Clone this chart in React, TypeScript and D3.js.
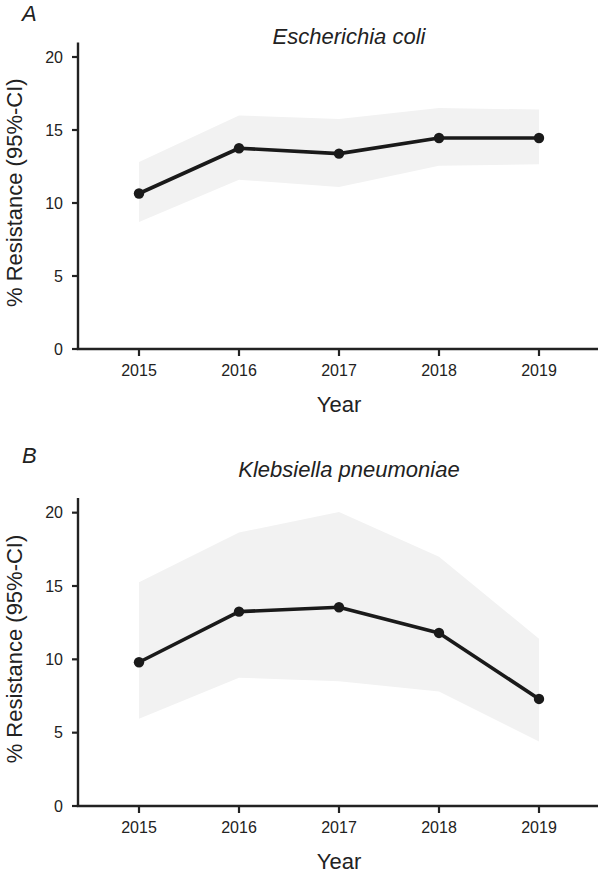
import React from "react";
import * as d3 from "d3";

const years = [2015, 2016, 2017, 2018, 2019];
const ecoliValue = [10.65, 13.75, 13.38, 14.45, 14.45];
const ecoliLower = [8.7, 11.6, 11.1, 12.55, 12.65];
const ecoliUpper = [12.8, 16.0, 15.75, 16.5, 16.4];
const klebValue = [9.8, 13.25, 13.55, 11.8, 7.3];
const klebLower = [5.95, 8.75, 8.5, 7.8, 4.4];
const klebUpper = [15.25, 18.65, 20.05, 17.0, 11.4];
const yTicks = [0, 5, 10, 15, 20];

const FONT = "'Liberation Sans', Arial, sans-serif";
const TXT = "#222";

type PanelProps = {
  letter: string;
  title: string;
  values: number[];
  lower: number[];
  upper: number[];
  top: number;
  bottom: number;
  letterY: number;
  titleY: number;
};

function Panel({ letter, title, values, lower, upper, top, bottom, letterY, titleY }: PanelProps) {
  const x = d3.scaleLinear().domain([2014.39, 2019.59]).range([78, 598]);
  const y = d3.scaleLinear().domain([0, 21]).range([bottom, top]);
  const rows = years.map((yr, i) => ({ yr, v: values[i], lo: lower[i], hi: upper[i] }));
  const area = d3
    .area<(typeof rows)[0]>()
    .x((d) => x(d.yr))
    .y0((d) => y(d.lo))
    .y1((d) => y(d.hi));
  const line = d3
    .line<(typeof rows)[0]>()
    .x((d) => x(d.yr))
    .y((d) => y(d.v));
  const [x0, x1] = x.range();
  const midY = (top + bottom) / 2 - 3;
  return (
    <g>
      <text x={22} y={letterY} fontFamily={FONT} fontStyle="italic" fontSize={22} fill={TXT}>
        {letter}
      </text>
      <text x={349} y={titleY} textAnchor="middle" fontFamily={FONT} fontStyle="italic" fontSize={22} fill={TXT}>
        {title}
      </text>
      <path d={area(rows) || ""} fill="#f2f2f2" stroke="none" />
      <path d={line(rows) || ""} fill="none" stroke="#1a1a1a" strokeWidth={3.6} strokeLinejoin="round" />
      {rows.map((d) => (
        <circle key={d.yr} cx={x(d.yr)} cy={y(d.v)} r={5.2} fill="#1a1a1a" />
      ))}
      <line x1={x0} x2={x0} y1={y(21)} y2={y(0)} stroke="#222" strokeWidth={2.4} />
      {yTicks.map((t) => (
        <g key={t}>
          <line x1={x0 - 6} x2={x0} y1={y(t)} y2={y(t)} stroke="#222" strokeWidth={2.2} />
          <text x={x0 - 15} y={y(t)} dy="0.35em" textAnchor="end" fontFamily={FONT} fontSize={16} fill={TXT}>
            {t}
          </text>
        </g>
      ))}
      <line x1={x0 - 1.2} x2={x1} y1={y(0)} y2={y(0)} stroke="#222" strokeWidth={2.4} />
      {years.map((yr) => (
        <g key={yr}>
          <line x1={x(yr)} x2={x(yr)} y1={y(0)} y2={y(0) + 7} stroke="#222" strokeWidth={2.2} />
          <text x={x(yr)} y={y(0) + 27} textAnchor="middle" fontFamily={FONT} fontSize={16} fill={TXT}>
            {yr}
          </text>
        </g>
      ))}
      <text x={x(2017)} y={y(0) + 63} textAnchor="middle" fontFamily={FONT} fontSize={22} fill={TXT}>
        Year
      </text>
      <text
        transform={`translate(14, ${midY}) rotate(-90)`}
        textAnchor="middle"
        dy="0.35em"
        fontFamily={FONT}
        fontSize={22}
        fill={TXT}
      >
        % Resistance (95%-CI)
      </text>
    </g>
  );
}

export default function App() {
  return (
    <svg
      width={602}
      height={874}
      viewBox="0 0 602 874"
      style={{ position: "absolute", left: 0, top: 0, background: "#fff" }}
    >
      <rect width={602} height={874} fill="#fff" />
      <Panel
        letter="A"
        title="Escherichia coli"
        values={ecoliValue}
        lower={ecoliLower}
        upper={ecoliUpper}
        top={42.4}
        bottom={349}
        letterY={21}
        titleY={44}
      />
      <Panel
        letter="B"
        title="Klebsiella pneumoniae"
        values={klebValue}
        lower={klebLower}
        upper={klebUpper}
        top={498}
        bottom={806}
        letterY={463}
        titleY={477}
      />
    </svg>
  );
}
